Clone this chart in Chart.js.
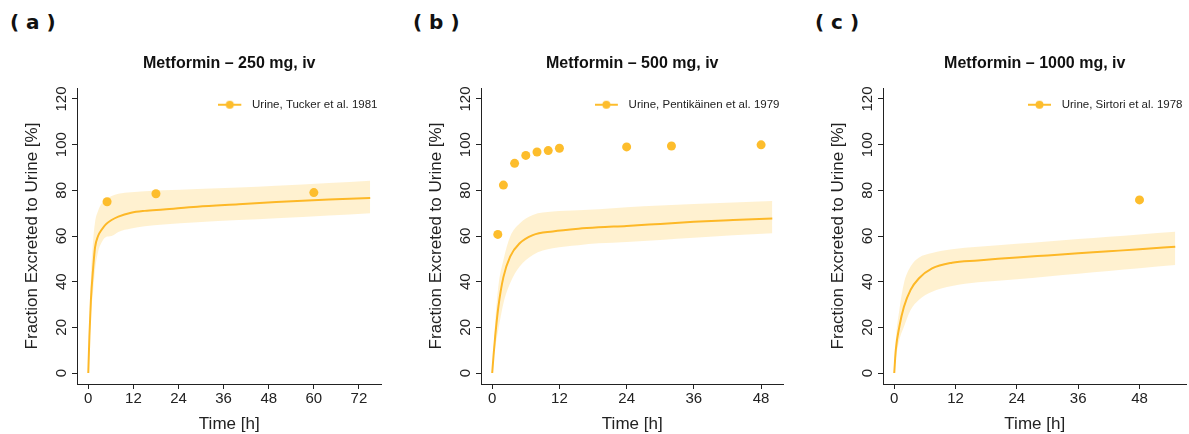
<!DOCTYPE html>
<html lang="en">
<head>
<meta charset="UTF-8"/>
<title>Metformin iv – fraction excreted to urine</title>
<script src="https://cdn.jsdelivr.net/npm/chart.js"></script>
<style>
  html,body{margin:0;padding:0;background:#fff;overflow:hidden;}
  body{width:1189px;height:434px;position:relative;}
  .panel{position:absolute;top:0;height:434px;}
  .tag{position:absolute;top:10px;font:bold 20px 'DejaVu Sans',sans-serif;color:#111;white-space:pre;}
</style>
</head>
<body>
<div class="tag" style="left:10px">( a )</div>
<div class="tag" style="left:413px">( b )</div>
<div class="tag" style="left:815px">( c )</div>
<div class="panel" id="pa"><canvas id="ca"></canvas></div>
<div class="panel" id="pb"><canvas id="cb"></canvas></div>
<div class="panel" id="pc"><canvas id="cc"></canvas></div>

<script>
  // ---- data ----
  const yTicks=[0,20,40,60,80,100,120];

  // (a) 250 mg
  const timeA =[0,0.3,0.7,1.3,1.8,2.6,3.5,4.6,6.2,8,11.4,15,20,29,40,50,64,75];
  const predA =[0,16,32,46,55,60,62.6,65,67,68.5,70.2,71,71.6,72.8,73.9,74.9,76,76.6];
  const lowA  =[0,12,25,36,45,53,57,59.5,60,61.8,63.3,64.3,65,66,67,67.8,69,70];
  const upA   =[0,20,42,58,66,71,74,76,77.5,78.5,79.2,79.6,80,80.6,81.2,82,83.2,84.2];
  const obsTA =[5,18,60];
  const obsA  =[75,78.5,79];
  const xTicksA=[0,12,24,36,48,60,72];

  // (b) 500 mg
  const timeB =[0,0.25,0.53,1.1,2,3.2,4.9,7.25,10.8,15.4,19,24,30,36,43,50];
  const predB =[0,8,16,29,42,51,56.8,60.4,62,63.2,63.8,64.4,65.3,66.2,67,67.7];
  const lowB  =[0,6,11,19,30.5,39.3,46.6,51.7,54.6,56,56.8,57.4,58.3,59.2,60.3,61.2];
  const upB   =[0,10,22,38,49.5,59.7,65.5,69.2,70.7,71.3,71.7,72.6,73.3,74,74.7,75.3];
  const obsTB =[1,2,4,6,8,10,12,24,32,48];
  const obsB  =[60.7,82.3,91.8,95.3,96.8,97.4,98.4,99,99.4,99.9];
  const xTicksB=[0,12,24,36,48];

  // (c) 1000 mg
  const timeC =[0,0.3,1,1.9,3.2,4.8,7.4,11.3,16.4,20.3,24,30,36,42,48,55];
  const predC =[0,10,20.3,29,36.4,41.4,45.8,48.3,49.3,50,50.6,51.5,52.4,53.3,54.2,55.3];
  const lowC  =[0,6,14.5,20.3,27.6,32,35.6,38.1,39.7,40.4,41.1,42.3,43.5,44.7,45.9,47.3];
  const upC   =[0,14,27.6,39.3,46.6,50.5,52.6,54.2,55.3,56,56.6,57.6,58.7,59.7,60.7,61.9];
  const obsTC =[48];
  const obsC  =[75.8];
  const xTicksC=[0,12,24,36,48];

  const lineCol='#FDB827', dotCol='#FDBD2C', bandCol='rgba(253,190,40,0.22)', ink='#222';
  const FONT="'Liberation Sans', Arial, sans-serif";

  function pts(xs,ys){return xs.map((x,i)=>({x:x,y:ys[i]}));}

  function legendIcon(){
    const c=document.createElement('canvas'); c.width=28; c.height=10;
    const g=c.getContext('2d');
    g.strokeStyle=dotCol; g.lineWidth=2;
    g.beginPath(); g.moveTo(0,5); g.lineTo(23,5); g.stroke();
    g.fillStyle=dotCol; g.beginPath(); g.arc(11.5,5,4,0,Math.PI*2); g.fill();
    return c;
  }
  const icon=legendIcon();

  // put the legend box in the top right corner of the plot area
  const legendInside={
    id:'legendInside',
    afterLayout(chart){
      const l=chart.legend, a=chart.chartArea;
      if(!l) return;
      const w=l.width, h=l.height;
      l.left=a.right-w+6; l.right=a.right+6;
      l.top=a.top+3; l.bottom=a.top+3+h;
    }
  };

  function makePanel(divId,canvasId,left,width,cfg){
    const div=document.getElementById(divId);
    div.style.left=left+'px'; div.style.width=width+'px';
    new Chart(document.getElementById(canvasId),{
      type:'line',
      data:{datasets:[
        {label:cfg.legend,data:pts(cfg.obsT,cfg.obs),showLine:false,pointRadius:4.5,
         pointBackgroundColor:dotCol,pointBorderWidth:0,backgroundColor:dotCol},
        {label:'pred',data:pts(cfg.time,cfg.pred),borderColor:lineCol,borderWidth:2,
         pointRadius:0,cubicInterpolationMode:'monotone',fill:false},
        {label:'upper',data:pts(cfg.time,cfg.up),borderWidth:0,pointRadius:0,
         cubicInterpolationMode:'monotone',fill:'+1',backgroundColor:bandCol},
        {label:'lower',data:pts(cfg.time,cfg.low),borderWidth:0,pointRadius:0,
         cubicInterpolationMode:'monotone',fill:false}
      ]},
      options:{
        responsive:true,maintainAspectRatio:false,animation:false,
        layout:{padding:0},
        plugins:{
          title:{display:true,text:cfg.title,fullSize:false,color:'#111',
            font:{family:FONT,size:16,weight:'bold',lineHeight:1.2},
            padding:{top:54.4,bottom:14.4}},
          legend:{position:'chartArea',align:'start',
            labels:{usePointStyle:true,pointStyleWidth:28,padding:8,color:ink,
              font:{family:FONT,size:11.5},
              generateLabels:(chart)=>[{text:cfg.legend,pointStyle:icon,datasetIndex:0,
                fillStyle:dotCol,strokeStyle:dotCol,lineWidth:0,hidden:false,fontColor:ink}]}},
          tooltip:{enabled:false}
        },
        scales:{
          x:{type:'linear',min:cfg.xmin,max:cfg.xmax,
            afterBuildTicks:s=>{s.ticks=cfg.xTicks.map(v=>({value:v}));},
            afterFit:s=>{s.height=50;},
            border:{display:true,color:ink,width:1},
            grid:{drawOnChartArea:false,drawTicks:true,tickLength:5,color:ink},
            ticks:{color:ink,font:{family:FONT,size:15},padding:1,maxRotation:0},
            title:{display:true,text:'Time [h]',color:ink,
              font:{family:FONT,size:17,lineHeight:1.1},padding:{top:0,bottom:0}}},
          y:{type:'linear',min:-4.8,max:124.8,
            afterBuildTicks:s=>{s.ticks=yTicks.map(v=>({value:v}));},
            afterFit:s=>{s.width=80;},
            border:{display:true,color:ink,width:1},
            grid:{drawOnChartArea:false,drawTicks:true,tickLength:5,color:ink},
            ticks:{color:ink,font:{family:FONT,size:15},minRotation:90,maxRotation:90,
              crossAlign:'center',padding:-2.5},
            title:{display:true,text:'Fraction Excreted to Urine [%]',color:ink,
              font:{family:FONT,size:17,lineHeight:1.1},padding:{top:25.6,bottom:0}}}
        }
      },
      plugins:[legendInside]
    });
  }

  makePanel('pa','ca',-3,389,{title:'Metformin – 250 mg, iv',legend:'Urine, Tucker et al. 1981',
    time:timeA,pred:predA,low:lowA,up:upA,obsT:obsTA,obs:obsA,xTicks:xTicksA,xmin:-3,xmax:78});
  makePanel('pb','cb',401,387,{title:'Metformin – 500 mg, iv',legend:'Urine, Pentikäinen et al. 1979',
    time:timeB,pred:predB,low:lowB,up:upB,obsT:obsTB,obs:obsB,xTicks:xTicksB,xmin:-2,xmax:52});
  makePanel('pc','cc',803,388,{title:'Metformin – 1000 mg, iv',legend:'Urine, Sirtori et al. 1978',
    time:timeC,pred:predC,low:lowC,up:upC,obsT:obsTC,obs:obsC,xTicks:xTicksC,xmin:-2.2,xmax:57.2});
</script>
</body>
</html>
